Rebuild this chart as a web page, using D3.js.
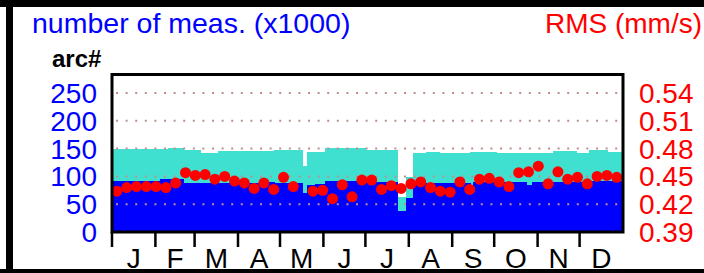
<!DOCTYPE html>
<html>
<head>
<meta charset="utf-8">
<script src="https://cdn.jsdelivr.net/npm/d3@7"></script>
<style>
  body { margin: 0; background: #fff; }
  text { font-family: "Liberation Sans", Arial, sans-serif; }
</style>
</head>
<body>
<svg id="chart" width="704" height="273"></svg>
<script>
'use strict'
var months = ["J", "F", "M", "A", "M", "J", "J", "A", "S", "O", "N", "D"];
var monthStart = [0, 31, 59, 90, 120, 151, 181, 212, 243, 273, 304, 334];

// step segments of the bars: start day, total arcs, blue part (x1000)
var segStart = [0, 34, 40, 51, 63, 76, 109, 116, 136, 139, 145, 152, 181, 204, 210, 215, 224, 234, 256, 258, 275, 291, 296, 300, 315, 325, 332, 341, 354];
var segTotal = [149, 149, 151, 147, 143, 145, 145, 148, 119, 143.6, 143.6, 152, 148, 62.5, 99.6, 143, 144, 143, 144, 144, 142, 143, 143, 143, 145, 145, 142, 148, 143.5];
var segBlue = [92, 95, 95, 88, 88, 88, 90.5, 89, 70, 85, 86.5, 92.5, 90.5, 38.4, 60.7, 90.5, 89, 89, 85, 89.5, 89.5, 89.5, 85, 89.5, 90.5, 89.5, 89.5, 91, 91];

// weekly RMS (mm/s), week 20 has no value
var weekRms = [0.434, 0.438, 0.439, 0.439, 0.439, 0.438, 0.443, 0.454, 0.451, 0.452,
               0.447, 0.450, 0.445, 0.443, 0.437, 0.443, 0.436, 0.449, 0.439, null,
               0.434, 0.435, 0.426, 0.441, 0.428, 0.446, 0.446, 0.436, 0.440, 0.437,
               0.442, 0.444, 0.438, 0.434, 0.433, 0.444, 0.436, 0.447, 0.448, 0.444,
               0.439, 0.454, 0.455, 0.461, 0.442, 0.455, 0.447, 0.449, 0.442, 0.450,
               0.451, 0.449];

var leftTicks = [0, 50, 100, 150, 200, 250];
var rightTicks = [0.39, 0.42, 0.45, 0.48, 0.51, 0.54];

(function(){
var svg = d3.select("#chart");
var pLeft = 112, pRight = 623, pTop = 74.5, pBottom = 232;

var x = d3.scaleLinear().domain([0, 365]).range([pLeft, pRight]);
var yL = d3.scaleLinear().domain([0, 283.33]).range([pBottom, pTop]);
var yR = d3.scaleLinear().domain([0.39, 0.56]).range([pBottom, pTop]);

var segs = segStart.map(function(s, i){
    return {start: s, end: i < segStart.length - 1 ? segStart[i+1] : 365, total: segTotal[i], blue: segBlue[i]};
});

var g = svg.append("g");

// total (turquoise) then blue part on top
g.selectAll(".tot").data(segs).enter().append("rect")
    .attr("class", "tot")
    .attr("x", function(d){ return x(d.start); })
    .attr("width", function(d){ return x(d.end) - x(d.start) + 0.3; })
    .attr("y", function(d){ return yL(d.total); })
    .attr("height", function(d){ return yL(0) - yL(d.total); })
    .attr("fill", "#40e0d0")
    .attr("shape-rendering", "crispEdges");

g.selectAll(".blu").data(segs).enter().append("rect")
    .attr("class", "blu")
    .attr("x", function(d){ return x(d.start); })
    .attr("width", function(d){ return x(d.end) - x(d.start) + 0.3; })
    .attr("y", function(d){ return yL(d.blue); })
    .attr("height", function(d){ return yL(0) - yL(d.blue); })
    .attr("fill", "#0000ff")
    .attr("shape-rendering", "crispEdges");

// dotted grid
g.selectAll(".grid").data(leftTicks.slice(1)).enter().append("line")
    .attr("class", "grid")
    .attr("x1", pLeft + 4).attr("x2", pRight)
    .attr("y1", function(d){ return yL(d); })
    .attr("y2", function(d){ return yL(d); })
    .attr("stroke", "#bc8f8f")
    .attr("stroke-width", 2)
    .attr("stroke-dasharray", "2 7.6");

// weekly rms dots
g.selectAll(".dot").data(weekRms.map(function(v, i){ return {w: i, v: v}; })
        .filter(function(d){ return d.v !== null; }))
    .enter().append("circle")
    .attr("class", "dot")
    .attr("cx", function(d){ return x(d.w * 7 + 3.5); })
    .attr("cy", function(d){ return yR(d.v); })
    .attr("r", 5.5)
    .attr("fill", "#ff0000");

// plot frame
svg.append("rect")
    .attr("x", pLeft).attr("y", pTop)
    .attr("width", pRight - pLeft).attr("height", pBottom - pTop)
    .attr("fill", "none")
    .attr("stroke", "#000")
    .attr("stroke-width", 3);

// month ticks + labels
var xAxis = svg.append("g").attr("transform", "translate(0," + pBottom + ")");
xAxis.selectAll("line").data(monthStart).enter().append("line")
    .attr("x1", function(d){ return x(d); })
    .attr("x2", function(d){ return x(d); })
    .attr("y1", 0).attr("y2", 15)
    .attr("stroke", "#000")
    .attr("stroke-width", 2.5);
xAxis.selectAll("text").data(months).enter().append("text")
    .attr("x", function(d, i){ return x(monthStart[i] + ((i < 11 ? monthStart[i+1] : 365) - monthStart[i]) / 2); })
    .attr("y", 36)
    .attr("text-anchor", "middle")
    .attr("font-size", 28)
    .attr("fill", "#000")
    .text(function(d){ return d; });

// left axis labels
svg.append("g").selectAll("text").data(leftTicks).enter().append("text")
    .attr("x", 97)
    .attr("y", function(d){ return yL(d) + 10; })
    .attr("text-anchor", "end")
    .attr("font-size", 28)
    .attr("fill", "#0000ff")
    .text(function(d){ return d; });

// right axis labels
svg.append("g").selectAll("text").data(rightTicks).enter().append("text")
    .attr("x", 639)
    .attr("y", function(d){ return yR(d) + 10; })
    .attr("font-size", 28)
    .attr("fill", "#ff0000")
    .text(function(d){ return d3.format(".2f")(d); });

svg.append("text").attr("x", 32).attr("y", 33)
    .attr("font-size", 28.5).attr("fill", "#0000ff")
    .text("number of meas. (x1000)");
svg.append("text").attr("x", 702).attr("y", 33)
    .attr("text-anchor", "end")
    .attr("font-size", 28).attr("fill", "#ff0000")
    .text("RMS (mm/s)");
svg.append("text").attr("x", 52).attr("y", 67)
    .attr("font-size", 24).attr("font-weight", "bold").attr("fill", "#000")
    .text("arc#");

// outer frame
svg.append("rect").attr("x", 0).attr("y", 0).attr("width", 704).attr("height", 7).attr("fill", "#000");
svg.append("rect").attr("x", 6).attr("y", 0).attr("width", 7).attr("height", 273).attr("fill", "#000");
svg.append("rect").attr("x", 0).attr("y", 269).attr("width", 704).attr("height", 4).attr("fill", "#000");
})();
</script>
</body>
</html>
